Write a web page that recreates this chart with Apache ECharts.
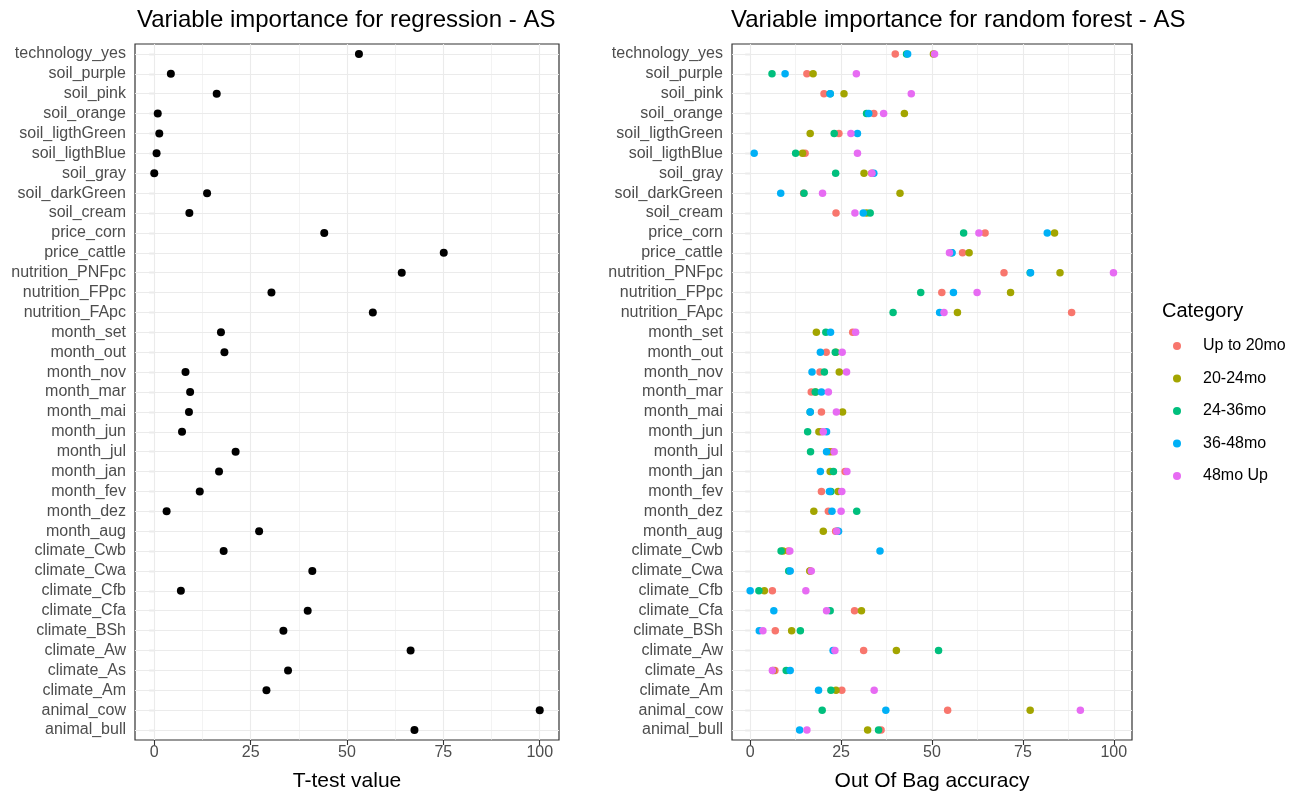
<!DOCTYPE html>
<html>
<head>
<meta charset="utf-8">
<script src="https://cdn.jsdelivr.net/npm/echarts@6/dist/echarts.min.js"></script>
<style>
html,body{margin:0;padding:0;background:#fff;}
#chart{width:1305px;height:797px;}
</style>
</head>
<body>
<div id="chart"></div>
<script>
// Categories, top to bottom
const categories = ['technology_yes','soil_purple','soil_pink','soil_orange','soil_ligthGreen','soil_ligthBlue','soil_gray','soil_darkGreen','soil_cream','price_corn','price_cattle','nutrition_PNFpc','nutrition_FPpc','nutrition_FApc','month_set','month_out','month_nov','month_mar','month_mai','month_jun','month_jul','month_jan','month_fev','month_dez','month_aug','climate_Cwb','climate_Cwa','climate_Cfb','climate_Cfa','climate_BSh','climate_Aw','climate_As','climate_Am','animal_cow','animal_bull'];

// Left panel: T-test value
const ttest = [53.1,4.3,16.2,0.9,1.3,0.6,0.0,13.7,9.1,44.1,75.1,64.2,30.4,56.7,17.3,18.2,8.1,9.3,9.0,7.2,21.1,16.8,11.8,3.2,27.2,18.0,41.0,6.9,39.8,33.5,66.5,34.7,29.1,100.0,67.5];

// Right panel: Out Of Bag accuracy per category
const seriesNames = ['Up to 20mo','20-24mo','24-36mo','36-48mo','48mo Up'];
const upTo20 = [39.9,15.6,20.3,34.0,24.4,15.1,33.4,14.7,23.6,64.6,58.4,69.8,52.7,88.4,28.2,20.9,19.2,16.8,19.6,19.5,22.5,26.1,19.6,21.5,23.5,10.5,16.5,6.1,28.7,6.9,31.2,6.8,25.2,54.3,36.0];
const m20_24 = [50.4,17.3,25.8,42.4,16.5,14.4,31.3,41.2,32.0,83.7,60.2,85.2,71.6,57.0,18.2,23.6,24.5,18.0,25.4,18.9,21.8,22.0,24.2,17.5,20.1,9.0,16.4,3.9,30.6,11.4,40.2,6.3,23.6,77.0,32.3];
const m24_36 = [43.0,6.0,22.0,32.0,23.1,12.5,23.5,14.8,33.0,58.7,55.4,77.0,46.9,39.3,20.8,23.4,20.4,17.9,16.5,15.8,16.6,22.9,22.2,29.3,24.0,8.5,10.6,2.4,22.0,13.8,51.8,9.9,22.2,19.8,35.3];
const m36_48 = [43.3,9.6,22.0,32.6,29.5,1.1,34.0,8.4,31.1,81.7,55.5,77.1,55.9,52.1,22.1,19.3,17.0,19.6,16.5,21.0,21.0,19.3,21.8,22.5,24.3,35.7,11.0,0.0,6.5,2.5,22.8,11.0,18.8,37.3,13.6];
const m48up = [50.7,29.2,44.3,36.7,27.7,29.5,33.5,19.9,28.8,62.9,54.8,99.9,62.4,53.3,29.0,25.3,26.5,21.5,23.7,20.1,23.1,26.6,25.2,25.0,23.8,10.9,16.8,15.3,21.0,3.5,23.3,6.1,34.1,90.8,15.6];
const rfValues = [upTo20, m20_24, m24_36, m36_48, m48up];
const colors = ['#F8766D','#A3A500','#00BF7D','#00B0F6','#E76BF3'];

const xTicks = [0,25,50,75,100];
const xMinor = [12.5,37.5,62.5,87.5];

const FONT = 'Liberation Sans, Arial, sans-serif';
const gridColor = '#EBEBEB';

function gridLineSeries(idx){
  const data = [];
  categories.forEach(c => data.push({yAxis: c, lineStyle:{width:1.1}}));
  xTicks.forEach(v => data.push({xAxis: v, lineStyle:{width:1.1}}));
  xMinor.forEach(v => data.push({xAxis: v, lineStyle:{width:0.6}}));
  return {
    name: 'grid'+idx, type: 'scatter', xAxisIndex: idx, yAxisIndex: idx, data: [], z: 1,
    silent: true,
    markLine: {
      silent: true, symbol: ['none','none'], z: 1, animation: false,
      label: {show:false},
      lineStyle: {color: gridColor, type: 'solid', width: 1},
      emphasis: {disabled: true},
      data: data
    }
  };
}

function xAxisCfg(idx, name){
  return {
    type: 'value', gridIndex: idx, min: -5, max: 105,
    axisLine: {show: false},
    axisTick: {show: true, customValues: xTicks, length: 5, lineStyle: {color: '#333', width: 1.1}},
    axisLabel: {customValues: xTicks, fontSize: 16, color: '#4D4D4D', fontFamily: FONT, margin: 5},
    splitLine: {show: false},
    name: name, nameLocation: 'middle', nameGap: 31,
    nameTextStyle: {fontSize: 21, color: '#000', fontFamily: FONT}
  };
}
function yAxisCfg(idx){
  return {
    type: 'category', gridIndex: idx, data: categories, inverse: true, boundaryGap: true,
    axisLine: {show: false},
    axisTick: {show: true, alignWithLabel: true, length: 5, lineStyle: {color: '#333', width: 1.1}},
    axisLabel: {fontSize: 16, color: '#4D4D4D', fontFamily: FONT, margin: 9, interval: 0},
    splitLine: {show: false}
  };
}

const series = [gridLineSeries(0), gridLineSeries(1)];
series.push({
  name: 'T-test', type: 'scatter', xAxisIndex: 0, yAxisIndex: 0, z: 3,
  symbolSize: 8, itemStyle: {color: '#000', opacity: 1},
  data: categories.map((c,i) => [ttest[i], c])
});
seriesNames.forEach((n,k) => {
  series.push({
    name: n, type: 'scatter', xAxisIndex: 1, yAxisIndex: 1, z: 3,
    symbolSize: 7.5, itemStyle: {color: colors[k], opacity: 1},
    data: categories.map((c,i) => [rfValues[k][i], c])
  });
});

const option = {
  backgroundColor: '#fff',
  animation: false,
  textStyle: {fontFamily: FONT},
  title: [
    {text: 'Variable importance for regression - AS', left: 132, top: 3, textStyle: {fontSize: 24, fontWeight: 'normal', color: '#000', fontFamily: FONT}},
    {text: 'Variable importance for random forest - AS', left: 726, top: 3, textStyle: {fontSize: 24, fontWeight: 'normal', color: '#000', fontFamily: FONT}},
    {text: 'Category', left: 1157, top: 296, textStyle: {fontSize: 20, fontWeight: 'normal', color: '#000', fontFamily: FONT}}
  ],
  legend: {
    data: seriesNames, orient: 'vertical', left: 1168, top: 333,
    icon: 'circle', itemWidth: 30, itemHeight: 8, itemGap: 16.5,
    textStyle: {fontSize: 16, lineHeight: 16, color: '#000', fontFamily: FONT, padding: [0,0,0,6]},
    selectedMode: false
  },
  grid: [
    {left: 135, right: 746, top: 44, bottom: 54, show: true, borderColor: '#333', borderWidth: 1.2, backgroundColor: '#fff', containLabel: false},
    {left: 732, right: 173, top: 44, bottom: 54, show: true, borderColor: '#333', borderWidth: 1.2, backgroundColor: '#fff', containLabel: false}
  ],
  xAxis: [xAxisCfg(0, 'T-test value'), xAxisCfg(1, 'Out Of Bag accuracy')],
  yAxis: [yAxisCfg(0), yAxisCfg(1)],
  series: series
};

const chart = echarts.init(document.getElementById('chart'), null, {renderer: 'canvas'});
chart.setOption(option);
</script>
</body>
</html>
